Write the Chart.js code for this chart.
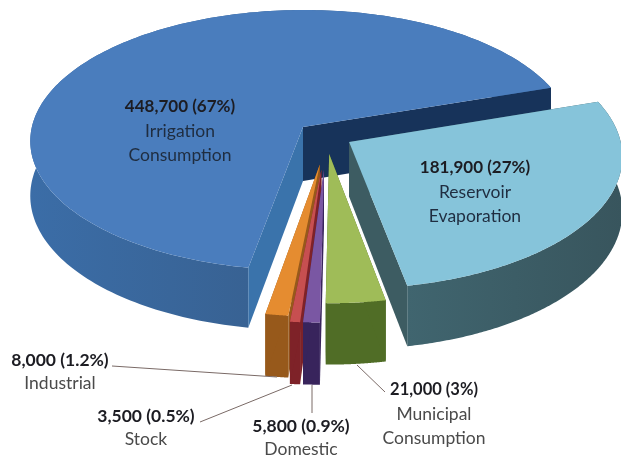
<!DOCTYPE html>
<html>
<head>
<meta charset="utf-8">
<script src="https://cdn.jsdelivr.net/npm/chart.js@4"></script>
<style>
  html, body { margin: 0; padding: 0; background: #fff; }
  canvas { display: block; }
</style>
</head>
<body>
<canvas id="chart" width="621" height="460"></canvas>
<script>
// Data, clockwise from the back right edge
const categories = ['Reservoir Evaporation', 'Municipal Consumption', 'Domestic', 'Stock', 'Industrial', 'Irrigation Consumption'];
const values = [181900, 21000, 5800, 3500, 8000, 448700];
const valueLabels = ['181,900 (27%)', '21,000 (3%)', '5,800 (0.9%)', '3,500 (0.5%)', '8,000 (1.2%)', '448,700 (67%)'];
const nameLines = [['Reservoir', 'Evaporation'], ['Municipal', 'Consumption'], ['Domestic'], ['Stock'], ['Industrial'], ['Irrigation', 'Consumption']];

// Colours per slice
const topColors = ['#86c4da', '#9fbc58', '#7a57a3', '#c74f50', '#e58c30', '#4a7dbd'];
const wallLeftColors = ['#40656f', '#506d26', '#38245c', '#7e2228', '#97591b', '#3b6da7'];
const wallRightColors = ['#38555d', '#506d26', '#38245c', '#7e2228', '#97591b', '#386293'];
const firstCutColors = ['#3d5c62', '#506d26', '#38245c', '#7e2228', '#97591b', '#3a73ab'];
const lastCutColors = ['#3d5c62', '#506d26', '#38245c', '#7e2228', '#97591b', '#17335a'];

// Label layout: centre x, first line y, leader line
const labelX = [475, 434, 301, 146, 60, 180];
const labelY = [168, 390, 426, 416, 360, 107];
const labelStep = [24, 24, 23, 23, 23, 24];
const boldSize = [17, 16.5, 17.5, 17.5, 17.5, 17];
const leaders = [null, [[357, 365], [385, 392]], [[312, 385], [312, 413]], [[292, 385], [200, 422]], [[277, 377], [112, 366]], null];

// 3D view of the pie
const VIEW = { x0: 303, y0: 127, a: 270, b: -1, d: 128.7, i: 0.005, j: -0.1, depth: 54, explode: 0.1 };
// extra pull of each slice on the pie plane
const pullU = [0.008, 0.012, 0.005, 0, 0, 0];
const pullV = [0, 0.04, 0.154, 0.154, 0.119, 0];

function project(u, v, z) {
  const w = 1 + VIEW.i * u + VIEW.j * v;
  return [VIEW.x0 + VIEW.a * u / w, VIEW.y0 + (VIEW.b * u + VIEW.d * v + z * VIEW.depth) / w];
}

function fillPoly(ctx, pts, color) {
  ctx.beginPath();
  pts.forEach((p, i) => i ? ctx.lineTo(p[0], p[1]) : ctx.moveTo(p[0], p[1]));
  ctx.closePath();
  ctx.fillStyle = color;
  ctx.fill();
}

///////////////////////////////// CONTROLLER /////////////////////////////////////

// Pie controller that paints its arc elements as an exploded 3D pie
class Pie3dController extends Chart.PieController {
  draw() {
    const ctx = this.chart.ctx;
    const arcs = this._cachedMeta.data;
    const biggest = arcs.reduce((m, a) => (a.circumference > m.circumference ? a : m), arcs[0]);
    const bigMid = (biggest.startAngle + biggest.endAngle) / 2;
    // the biggest slice sits with its tip on the view origin
    const cu = -VIEW.explode * Math.cos(bigMid);
    const cv = -VIEW.explode * Math.sin(bigMid);

    // back to front: biggest, first slice, then the thin ones
    const order = [5, 0, 1, 4, 3, 2];
    order.forEach(i => {
      const arc = arcs[i];
      const mid = (arc.startAngle + arc.endAngle) / 2;
      const ou = cu + VIEW.explode * Math.cos(mid) + pullU[i];
      const ov = cv + VIEW.explode * Math.sin(mid) + pullV[i];
      const rim = [];
      for (let t = 0; t <= 200; t++) {
        const ang = arc.startAngle + (arc.endAngle - arc.startAngle) * t / 200;
        rim.push([ou + Math.cos(ang), ov + Math.sin(ang)]);
      }
      const first = rim[0], last = rim[rim.length - 1];

      // outer wall
      const wall = rim.map(p => project(p[0], p[1], 0)).concat(rim.slice().reverse().map(p => project(p[0], p[1], 1)));
      const xs = wall.map(p => p[0]);
      const shade = ctx.createLinearGradient(Math.min(...xs), 0, i === 5 ? project(first[0], first[1], 0)[0] : Math.max(...xs), 0);
      shade.addColorStop(0, wallLeftColors[i]);
      shade.addColorStop(1, wallRightColors[i]);
      fillPoly(ctx, wall, shade);

      // cut walls
      fillPoly(ctx, [project(ou, ov, 0), project(first[0], first[1], 0), project(first[0], first[1], 1), project(ou, ov, 1)], firstCutColors[i]);
      fillPoly(ctx, [project(ou, ov, 0), project(last[0], last[1], 0), project(last[0], last[1], 1), project(ou, ov, 1)], lastCutColors[i]);

      // top
      fillPoly(ctx, [project(ou, ov, 0)].concat(rim.map(p => project(p[0], p[1], 0))), topColors[i]);
    });
  }
}
Pie3dController.id = 'pie3d';
Pie3dController.defaults = Chart.PieController.defaults;
Pie3dController.overrides = Chart.PieController.overrides;
Chart.register(Pie3dController);

///////////////////////////////// LABELS /////////////////////////////////////

const labelPlugin = {
  id: 'sliceLabels',
  afterDraw(chart) {
    const ctx = chart.ctx;
    ctx.save();
    ctx.textAlign = 'center';
    ctx.textBaseline = 'middle';
    valueLabels.forEach((text, i) => {
      if (leaders[i]) {
        ctx.beginPath();
        ctx.moveTo(leaders[i][0][0], leaders[i][0][1]);
        ctx.lineTo(leaders[i][1][0], leaders[i][1][1]);
        ctx.strokeStyle = '#7a6a66';
        ctx.lineWidth = 1;
        ctx.stroke();
      }
      ctx.font = 'bold ' + boldSize[i] + 'px Lato';
      ctx.fillStyle = '#1c1c22';
      ctx.fillText(text, labelX[i], labelY[i]);
      ctx.font = '17.5px Lato';
      ctx.fillStyle = i === 0 || i === 5 ? '#1f2d40' : '#4a4a4a';
      nameLines[i].forEach((line, n) => {
        ctx.fillText(line, labelX[i], labelY[i] + labelStep[i] * (n + 1));
      });
    });
    ctx.restore();
  }
};

new Chart(document.getElementById('chart'), {
  type: 'pie3d',
  data: {
    labels: categories,
    datasets: [{ data: values, rotation: 72 }]
  },
  options: {
    responsive: false,
    animation: false,
    plugins: { legend: { display: false }, tooltip: { enabled: false } }
  },
  plugins: [labelPlugin]
});
</script>
</body>
</html>
